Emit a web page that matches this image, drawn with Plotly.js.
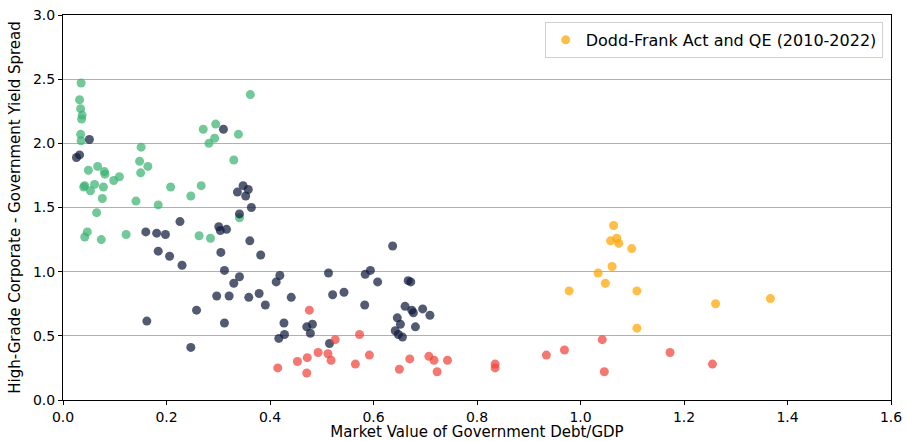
<!DOCTYPE html>
<html>
<head>
<meta charset="utf-8">
<script src="https://cdn.plot.ly/plotly-3.0.1.min.js"></script>
<style>html,body{margin:0;padding:0;background:#fff;}#chart{width:907px;height:441px;}</style>
</head>
<body>
<div id="chart"></div>
<script>
// Period 1 (green)
const greenX = [0.035,0.032,0.034,0.037,0.036,0.034,0.035,0.049,0.067,0.080,0.081,0.098,0.109,0.040,0.042,0.053,0.061,0.078,0.076,0.065,0.047,0.042,0.074,0.122,0.151,0.148,0.164,0.150,0.141,0.184,0.208,0.247,0.267,0.271,0.295,0.293,0.282,0.339,0.330,0.362,0.341,0.263,0.285];
const greenY = [2.47,2.34,2.27,2.22,2.19,2.07,2.02,1.79,1.82,1.78,1.76,1.71,1.74,1.66,1.67,1.63,1.68,1.66,1.57,1.46,1.31,1.27,1.25,1.29,1.97,1.86,1.82,1.77,1.55,1.52,1.66,1.59,1.67,2.11,2.15,2.04,2.00,2.07,1.87,2.38,1.42,1.28,1.26];
// Period 2 (dark navy)
const navyX = [0.051,0.026,0.032,0.310,0.348,0.337,0.358,0.353,0.364,0.341,0.226,0.160,0.181,0.198,0.301,0.304,0.316,0.361,0.184,0.206,0.305,0.382,0.230,0.312,0.341,0.330,0.419,0.412,0.513,0.584,0.594,0.608,0.637,0.297,0.321,0.359,0.379,0.391,0.441,0.521,0.543,0.583,0.258,0.162,0.312,0.427,0.471,0.482,0.478,0.428,0.417,0.515,0.247,0.646,0.652,0.642,0.648,0.656,0.667,0.672,0.661,0.674,0.677,0.695,0.709,0.681];
const navyY = [2.03,1.89,1.91,2.11,1.67,1.62,1.64,1.59,1.50,1.45,1.39,1.31,1.30,1.29,1.35,1.32,1.33,1.24,1.16,1.12,1.15,1.13,1.05,1.01,0.96,0.91,0.97,0.92,0.99,0.98,1.01,0.92,1.20,0.81,0.81,0.80,0.83,0.74,0.80,0.82,0.84,0.74,0.70,0.615,0.60,0.60,0.57,0.59,0.52,0.51,0.48,0.44,0.41,0.64,0.59,0.54,0.51,0.49,0.93,0.92,0.73,0.70,0.68,0.71,0.66,0.57];
// Period 3 (red)
const redX = [0.476,0.526,0.573,0.493,0.512,0.518,0.472,0.453,0.415,0.471,0.565,0.592,0.650,0.670,0.707,0.717,0.743,0.723,0.835,0.835,0.934,0.969,1.042,1.046,1.173,1.255];
const redY = [0.70,0.47,0.51,0.37,0.36,0.31,0.33,0.30,0.25,0.21,0.28,0.35,0.24,0.32,0.34,0.31,0.31,0.22,0.28,0.25,0.35,0.39,0.47,0.22,0.37,0.28];
// Dodd-Frank Act and QE (2010-2022) (orange)
const orangeX = [0.978,1.064,1.058,1.070,1.074,1.099,1.061,1.034,1.048,1.109,1.261,1.367,1.109];
const orangeY = [0.85,1.36,1.24,1.26,1.22,1.18,1.04,0.99,0.91,0.85,0.75,0.79,0.56];

const xTicks = [0,0.2,0.4,0.6,0.8,1.0,1.2,1.4,1.6];
const yTicks = [0,0.5,1.0,1.5,2.0,2.5,3.0];

function tr(x, y, color, name, show) {
  return {x: x, y: y, type: 'scatter', mode: 'markers', name: name, showlegend: show,
    marker: {size: 9, color: color, opacity: 0.72, line: {width: 0}}};
}

const data = [
  tr(greenX, greenY, '#3cb371', 'Period 1', false),
  tr(navyX, navyY, '#0f1c3c', 'Period 2', false),
  tr(redX, redY, '#f0443a', 'Period 3', false),
  tr(orangeX, orangeY, '#ffa500', 'Dodd-Frank Act and QE (2010-2022)', true)
];

const axisCommon = {
  showline: true, linecolor: '#000', linewidth: 1, mirror: true,
  ticks: 'outside', ticklen: 4, tickwidth: 1, tickcolor: '#000',
  zeroline: false, tickfont: {family: 'DejaVu Sans', size: 14, color: '#000'}
};

const layout = {
  width: 907, height: 441,
  margin: {l: 63, r: 16, t: 15, b: 41},
  paper_bgcolor: '#fff', plot_bgcolor: '#fff',
  font: {family: 'DejaVu Sans', size: 14, color: '#000'},
  xaxis: Object.assign({}, axisCommon, {
    range: [0, 1.6], tickvals: xTicks, ticktext: xTicks.map(v => v.toFixed(1)),
    showgrid: false,
    title: {text: 'Market Value of Government Debt/GDP', font: {family: 'DejaVu Sans', size: 15}, standoff: 3}
  }),
  yaxis: Object.assign({}, axisCommon, {
    range: [0, 3.0], tickvals: yTicks, ticktext: yTicks.map(v => v.toFixed(1)),
    showgrid: true, gridcolor: '#b0b0b0', gridwidth: 1,
    title: {text: 'High-Grade Corporate - Government Yield Spread', font: {family: 'DejaVu Sans', size: 15}, standoff: 8}
  }),
  legend: {x: 0.99, y: 0.982, xanchor: 'right', yanchor: 'top',
    bgcolor: 'rgba(255,255,255,0.8)', bordercolor: '#d0d0d0', borderwidth: 1,
    font: {family: 'DejaVu Sans', size: 16, color: '#000'}},
  showlegend: true
};

Plotly.newPlot('chart', data, layout, {displayModeBar: false, staticPlot: true});
</script>
</body>
</html>
